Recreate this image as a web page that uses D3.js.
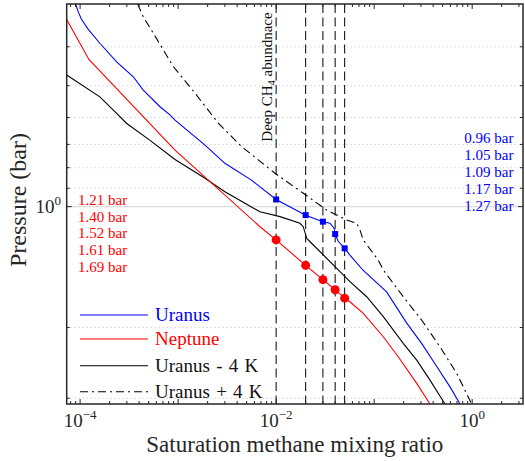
<!DOCTYPE html>
<html>
<head>
<meta charset="utf-8">
<script src="https://cdn.jsdelivr.net/npm/d3@7"></script>
<style>
  html, body { margin: 0; padding: 0; background: #fff; }
  svg { display: block; }
  text { font-family: "Liberation Serif", "Times New Roman", serif; }
</style>
</head>
<body>
<svg id="chart" width="525" height="461"></svg>
<script>
// Saturation CH4 mixing ratio vs pressure: [mixing ratio, pressure in bar]
const uranus = [
  [9.0e-5, 0.313], [9.6e-5, 0.328], [1.03e-4, 0.341], [1.2e-4, 0.361], [1.59e-4, 0.392],
  [2.36e-4, 0.436], [3.49e-4, 0.475], [4.41e-4, 0.513], [6.53e-4, 0.564], [8.26e-4, 0.591],
  [9.3e-4, 0.609], [1.88e-3, 0.703], [3.0e-3, 0.78], [5.6e-3, 0.859], [0.01, 0.96],
  [0.02, 1.05], [0.03, 1.09], [0.0354, 1.10], [0.0389, 1.13], [0.04, 1.17], [0.043, 1.22],
  [0.05, 1.27], [0.0566, 1.32], [0.077, 1.44], [0.134, 1.63], [0.215, 1.95], [0.305, 2.19],
  [0.435, 2.50], [0.594, 2.81], [0.751, 3.10]
];
const neptune = [
  [7.3e-5, 0.342], [1.23e-4, 0.430], [9.3e-4, 0.723], [6.84e-3, 1.122], [0.01, 1.21],
  [0.02, 1.40], [0.03, 1.52], [0.04, 1.61], [0.05, 1.69], [0.0566, 1.725], [0.0774, 1.844],
  [0.124, 2.108], [0.176, 2.364], [0.272, 2.754], [0.371, 3.10]
];
const uranusMinus4K = [
  [7.3e-5, 0.470], [1.59e-4, 0.533], [2.36e-4, 0.586], [2.97e-4, 0.620], [5.13e-4, 0.683],
  [9.3e-4, 0.763], [1.88e-3, 0.850], [3.0e-3, 0.918], [4.81e-3, 0.981], [6.84e-3, 1.030],
  [0.01094, 1.059], [0.0175, 1.100], [0.0189, 1.122], [0.0205, 1.199], [0.0222, 1.223],
  [0.0415, 1.424], [0.0566, 1.538], [0.0839, 1.676], [0.124, 1.879], [0.198, 2.189],
  [0.272, 2.410], [0.371, 2.703], [0.528, 3.10]
];
const uranusPlus4K = [
  [3.87e-4, 0.313], [4.41e-4, 0.337], [5.58e-4, 0.370], [8.93e-4, 0.448], [1.49e-3, 0.522],
  [2.57e-3, 0.620], [4.45e-3, 0.709], [9.73e-3, 0.826], [0.0188, 0.925], [0.0328, 1.020],
  [0.0525, 1.080], [0.0664, 1.100], [0.0717, 1.144], [0.0774, 1.211], [0.110, 1.358],
  [0.124, 1.438], [0.198, 1.676], [0.305, 1.916], [0.469, 2.233], [0.695, 2.600], [0.988, 3.10]
];

// Deep CH4 abundances and the pressures where each profile reaches them
const deepAbundances = [0.01, 0.02, 0.03, 0.04, 0.05];
const uranusLevels = [0.96, 1.05, 1.09, 1.17, 1.27];
const neptuneLevels = [1.21, 1.40, 1.52, 1.61, 1.69];

// Axis ticks
const xMajorTicks = [1e-4, 1e-3, 1e-2, 1e-1, 1];
const xLabelTicks = [[1e-4, "−4"], [1e-2, "−2"], [1, "0"]];
const yMajorTicks = [1];
const yMinorTicks = [0.4, 0.5, 0.6, 0.7, 0.8, 0.9, 2, 3];

const legendItems = [
  { name: "Uranus", color: "blue", dash: null, text: "blue" },
  { name: "Neptune", color: "red", dash: null, text: "red" },
  { name: "Uranus - 4 K", color: "black", dash: null, text: "#111" },
  { name: "Uranus + 4 K", color: "black", dash: "8,4,2,4", text: "#111" }
];

const svg = d3.select("#chart");
const pLeft = 66.7, pRight = 523, pTop = 4, pBottom = 404;
const axisColor = "#262626";

const x = d3.scaleLog().domain([7.3e-5, 3.3]).range([pLeft, pRight]);
const y = d3.scaleLog().domain([0.313, 3.1]).range([pTop, pBottom]);

svg.append("defs").append("clipPath").attr("id", "plotClip")
  .append("rect").attr("x", pLeft).attr("y", pTop)
  .attr("width", pRight - pLeft).attr("height", pBottom - pTop);

// Grid: dotted minor lines and a solid line at the major tick
const grid = svg.append("g");
grid.selectAll("line.minor").data(yMinorTicks).join("line")
  .attr("x1", pLeft).attr("x2", pRight)
  .attr("y1", d => y(d)).attr("y2", d => y(d))
  .attr("stroke", "#c4c4c4").attr("stroke-width", 1).attr("stroke-dasharray", "1,3");
grid.selectAll("line.major").data(yMajorTicks).join("line")
  .attr("x1", pLeft).attr("x2", pRight)
  .attr("y1", d => y(d)).attr("y2", d => y(d))
  .attr("stroke", "#dcdcdc").attr("stroke-width", 1.3);

const plot = svg.append("g").attr("clip-path", "url(#plotClip)");

// Vertical dashed lines at each deep abundance
plot.selectAll("line.deep").data(deepAbundances).join("line")
  .attr("x1", d => x(d)).attr("x2", d => x(d))
  .attr("y1", pTop).attr("y2", pBottom)
  .attr("stroke", "#000").attr("stroke-width", 1).attr("stroke-dasharray", "9,4.5");

const line = d3.line().x(d => x(d[0])).y(d => y(d[1]));
const series = [
  { data: uranusPlus4K, color: "black", dash: "8,4,2,4" },
  { data: uranusMinus4K, color: "black", dash: null },
  { data: neptune, color: "red", dash: null },
  { data: uranus, color: "blue", dash: null }
];
series.forEach(s => {
  plot.append("path").datum(s.data)
    .attr("d", line).attr("fill", "none")
    .attr("stroke", s.color).attr("stroke-width", 1.1)
    .attr("stroke-dasharray", s.dash);
});

// Markers where each profile meets the deep abundance
plot.selectAll("rect.u").data(deepAbundances.map((a, i) => [a, uranusLevels[i]])).join("rect")
  .attr("x", d => x(d[0]) - 3).attr("y", d => y(d[1]) - 3)
  .attr("width", 6).attr("height", 6).attr("fill", "blue");
plot.selectAll("circle.n").data(deepAbundances.map((a, i) => [a, neptuneLevels[i]])).join("circle")
  .attr("cx", d => x(d[0])).attr("cy", d => y(d[1])).attr("r", 4.5).attr("fill", "red");

// Pressure labels
svg.append("g").selectAll("text").data(neptuneLevels).join("text")
  .attr("x", 78).attr("y", (d, i) => 205 + 16.7 * i)
  .attr("font-size", 15).attr("fill", "red")
  .text(d => d.toFixed(2) + " bar");
svg.append("g").selectAll("text").data(uranusLevels).join("text")
  .attr("x", 513.5).attr("y", (d, i) => 142.7 + 17 * i)
  .attr("text-anchor", "end")
  .attr("font-size", 15).attr("fill", "blue")
  .text(d => d.toFixed(2) + " bar");

// Rotated annotation along the first dashed line
const ann = svg.append("text")
  .attr("transform", `translate(${x(deepAbundances[0]) - 4.5},141.7) rotate(-90)`)
  .attr("font-size", 15).attr("fill", "#111");
ann.append("tspan").text("Deep CH");
ann.append("tspan").attr("font-size", 10.5).attr("dy", 3).text("4");
ann.append("tspan").attr("dy", -3).text(" abundnace");

// Axes box
svg.append("rect").attr("x", pLeft).attr("y", pTop)
  .attr("width", pRight - pLeft).attr("height", pBottom - pTop)
  .attr("fill", "none").attr("stroke", axisColor).attr("stroke-width", 1.5);

// X ticks (bottom and top, pointing inward)
const xMinor = [];
for (let e = -5; e <= 0; e++) for (let m = 2; m <= 9; m++) {
  const v = m * Math.pow(10, e);
  if (v > x.domain()[0] && v < x.domain()[1]) xMinor.push(v);
}
const ticks = svg.append("g").attr("stroke", axisColor).attr("stroke-width", 1);
[[xMajorTicks, 5], [xMinor, 3]].forEach(([vals, len]) => {
  vals.forEach(v => {
    const px = x(v);
    ticks.append("line").attr("x1", px).attr("x2", px).attr("y1", pBottom).attr("y2", pBottom - len);
    ticks.append("line").attr("x1", px).attr("x2", px).attr("y1", pTop).attr("y2", pTop + len);
  });
});
// Y ticks (left and right)
[[yMajorTicks, 5], [yMinorTicks, 3]].forEach(([vals, len]) => {
  vals.forEach(v => {
    const py = y(v);
    ticks.append("line").attr("x1", pLeft).attr("x2", pLeft + len).attr("y1", py).attr("y2", py);
    ticks.append("line").attr("x1", pRight).attr("x2", pRight - len).attr("y1", py).attr("y2", py);
  });
});

// Tick labels
xLabelTicks.forEach(([v, ex]) => {
  const t = svg.append("text").attr("x", x(v)).attr("y", 426.7)
    .attr("text-anchor", "middle").attr("font-size", 19).attr("fill", axisColor);
  t.append("tspan").text("10");
  t.append("tspan").attr("font-size", 13).attr("dy", -8).text(ex);
});
yMajorTicks.forEach(v => {
  const t = svg.append("text").attr("x", 61).attr("y", y(v) + 6.7)
    .attr("text-anchor", "end").attr("font-size", 19).attr("fill", axisColor);
  t.append("tspan").text("10");
  t.append("tspan").attr("font-size", 13).attr("dy", -8).text("0");
});

// Axis titles
svg.append("text").attr("x", (pLeft + pRight) / 2).attr("y", 451.5)
  .attr("text-anchor", "middle").attr("font-size", 23).attr("fill", axisColor)
  .text("Saturation methane mixing ratio");
svg.append("text").attr("transform", `translate(25.5,200) rotate(-90)`)
  .attr("text-anchor", "middle").attr("font-size", 24).attr("fill", axisColor)
  .text("Pressure (bar)");

// Legend
const legendY = [315, 339, 365.7, 391.7];
const legend = svg.append("g");
legendItems.forEach((d, i) => {
  legend.append("line").attr("x1", 80).attr("x2", 148)
    .attr("y1", legendY[i]).attr("y2", legendY[i])
    .attr("stroke", d.color).attr("stroke-width", 1.1)
    .attr("stroke-dasharray", d.dash);
  legend.append("text").attr("x", 155).attr("y", legendY[i] + 6)
    .attr("font-size", 19).attr("fill", d.text)
    .attr("word-spacing", 1.5)
    .text(d.name);
});
</script>
</body>
</html>
